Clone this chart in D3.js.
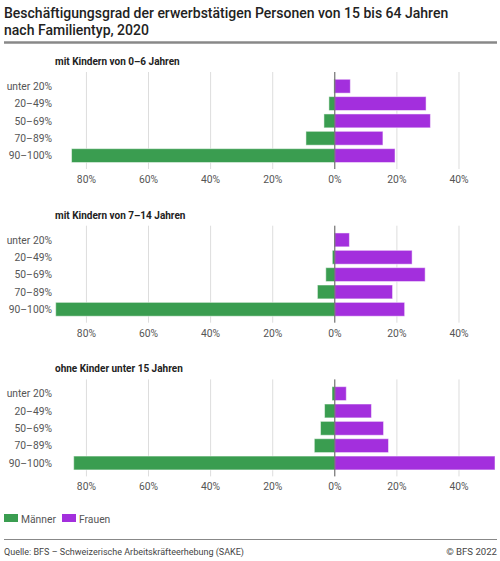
<!DOCTYPE html>
<html>
<head>
<meta charset="utf-8">
<script src="https://cdn.jsdelivr.net/npm/d3@7"></script>
<style>
  body { margin: 0; background: #fff; }
  svg { font-family: Roboto, "Noto Sans", sans-serif; }
</style>
</head>
<body>
<div id="chart"></div>
<script>
const categories = ["unter 20%", "20–49%", "50–69%", "70–89%", "90–100%"];
const panels = ["mit Kindern von 0–6 Jahren", "mit Kindern von 7–14 Jahren", "ohne Kinder unter 15 Jahren"];
const maenner = [
  [0.3, 1.9, 3.5, 9.3, 84.8],
  [0.2, 0.8, 2.9, 5.6, 89.9],
  [0.9, 3.3, 4.6, 6.6, 84.1]
];
const frauen = [
  [5.0, 29.4, 30.8, 15.5, 19.4],
  [4.7, 24.9, 29.1, 18.6, 22.5],
  [3.7, 11.8, 15.7, 17.3, 51.6]
];
const ticks = [-80, -60, -40, -20, 0, 20, 40];
const seriesNames = ["Männer", "Frauen"];
const colors = ["#3a9d50", "#a32fdd"];

const width = 500, height = 561;
const svg = d3.select("#chart").append("svg")
  .attr("width", width)
  .attr("height", height);

// title
svg.append("text")
  .attr("x", 4).attr("y", 18)
  .attr("font-size", 14).attr("font-weight", 500).attr("fill", "#222")
  .selectAll("tspan")
  .data(["Beschäftigungsgrad der erwerbstätigen Personen von 15 bis 64 Jahren", "nach Familientyp, 2020"])
  .join("tspan")
  .attr("x", 4)
  .attr("dy", (d, i) => i ? 16.5 : 0)
  .text(d => d);

svg.append("line")
  .attr("x1", 4).attr("x2", 497).attr("y1", 42.5).attr("y2", 42.5)
  .attr("stroke", "#888").attr("stroke-width", 2.5);

const minV = -d3.max(maenner.flat());
const maxV = d3.max(frauen.flat());
const x = d3.scaleLinear().domain([minV, maxV]).range([55.7, 495]);
const y = d3.scaleBand().domain(categories).range([10.8, 101]).padding(0.2);

panels.forEach((title, p) => {
  const g = svg.append("g").attr("transform", `translate(0, ${65 + p * 153.7})`);

  g.append("text")
    .attr("x", 55).attr("y", 0)
    .attr("font-size", 10).attr("font-weight", 700).attr("fill", "#222")
    .text(title);

  g.selectAll(".grid")
    .data(ticks.filter(t => t !== 0))
    .join("line")
    .attr("x1", d => x(d)).attr("x2", d => x(d))
    .attr("y1", 7).attr("y2", 104)
    .attr("stroke", "#ddd").attr("stroke-width", 1);

  g.selectAll(".tick")
    .data(ticks)
    .join("text")
    .attr("x", d => x(d)).attr("y", 118)
    .attr("text-anchor", "middle")
    .attr("font-size", 10.3).attr("fill", "#555")
    .text(d => Math.abs(d) + "%");

  g.selectAll(".cat")
    .data(categories)
    .join("text")
    .attr("x", 52)
    .attr("y", d => y(d) + y.bandwidth() / 2 + 3.7)
    .attr("text-anchor", "end")
    .attr("font-size", 10.3).attr("fill", "#555")
    .text(d => d);

  g.selectAll(".m")
    .data(maenner[p])
    .join("rect")
    .attr("x", d => x(-d))
    .attr("y", (d, i) => y(categories[i]))
    .attr("width", d => x(0) - x(-d))
    .attr("height", y.bandwidth())
    .attr("fill", colors[0])
    .attr("stroke", "rgba(255,255,255,0.5)").attr("stroke-width", 1);

  g.selectAll(".f")
    .data(frauen[p])
    .join("rect")
    .attr("x", x(0))
    .attr("y", (d, i) => y(categories[i]))
    .attr("width", d => x(d) - x(0))
    .attr("height", y.bandwidth())
    .attr("fill", colors[1])
    .attr("stroke", "rgba(255,255,255,0.5)").attr("stroke-width", 1);

  g.append("line")
    .attr("x1", x(0)).attr("x2", x(0))
    .attr("y1", 7).attr("y2", 104)
    .attr("stroke", "#555").attr("stroke-width", 1);
});

// legend
const leg = svg.append("g").attr("transform", "translate(4, 514)");
const legX = [0, 58];
seriesNames.forEach((name, i) => {
  leg.append("rect")
    .attr("x", legX[i]).attr("y", 0)
    .attr("width", 14).attr("height", 8)
    .attr("fill", colors[i]);
  leg.append("text")
    .attr("x", legX[i] + 17).attr("y", 8.5)
    .attr("font-size", 10.3).attr("fill", "#555")
    .text(name);
});

// footer
svg.append("line")
  .attr("x1", 4).attr("x2", 497).attr("y1", 539.5).attr("y2", 539.5)
  .attr("stroke", "#888").attr("stroke-width", 1);
svg.append("text")
  .attr("x", 4).attr("y", 555)
  .attr("font-size", 9).attr("fill", "#444")
  .text("Quelle: BFS – Schweizerische Arbeitskräfteerhebung (SAKE)");
svg.append("text")
  .attr("x", 497).attr("y", 555)
  .attr("text-anchor", "end")
  .attr("font-size", 9.6).attr("fill", "#444")
  .text("© BFS 2022");
</script>
</body>
</html>
